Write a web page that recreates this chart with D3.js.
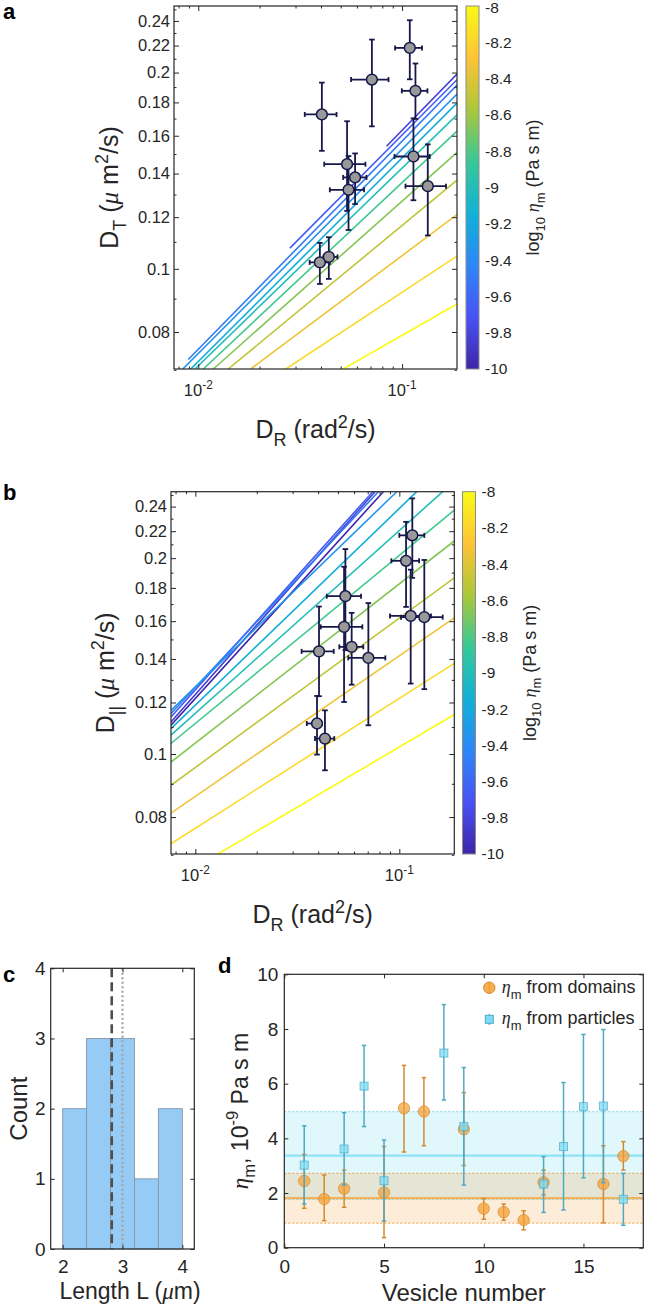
<!DOCTYPE html>
<html>
<head>
<meta charset="utf-8">
<script src="https://cdn.jsdelivr.net/npm/d3@7"></script>
<style>
body { margin: 0; background: #fff; }
svg { display: block; font-family: "Liberation Sans", Arial, Helvetica, sans-serif; }
</style>
</head>
<body>
<svg id="fig" width="646" height="1310"></svg>
<script>
// ---- panel a : D_T against D_R ----
const drA   = [0.0404, 0.0711, 0.1091, 0.1163, 0.0537, 0.0588, 0.0546, 0.1137, 0.1337, 0.0395, 0.0437];
const drALo = [0.0333, 0.0562, 0.0924, 0.0997, 0.0415, 0.0514, 0.0442, 0.0918, 0.1039, 0.0352, 0.0412];
const drAHi = [0.0477, 0.0858, 0.1253, 0.1332, 0.0661, 0.0669, 0.0651, 0.1367, 0.1643, 0.0442, 0.0482];
const dtA   = [0.1725, 0.1951, 0.2182, 0.1875, 0.1447, 0.1381, 0.1322, 0.1487, 0.1339, 0.1023, 0.1043];
const dtALo = [0.1517, 0.1654, 0.1953, 0.1698, 0.1227, 0.1257, 0.1147, 0.1274, 0.1125, 0.0948, 0.0965];
const dtAHi = [0.1930, 0.2247, 0.2406, 0.2065, 0.1684, 0.1503, 0.1489, 0.1701, 0.1552, 0.1096, 0.1118];

// model curves, log10 eta of each and its end points [D_R, D]
const etaA = [-9.833, -9.667, -9.5, -9.333, -9.167, -9.0, -8.833, -8.667, -8.5, -8.333, -8.167, -8.0];
const curvesA = [
  [[0.0839, 0.1542], [0.186, 0.1989]],
  [[0.02815, 0.1076], [0.186, 0.1950]],
  [[0.00893, 0.0726], [0.186, 0.1913]],
  [[0.00839, 0.0702], [0.186, 0.1853]],
  [[0.00918, 0.0702], [0.186, 0.1795]],
  [[0.00963, 0.0702], [0.186, 0.1723]],
  [[0.01058, 0.0702], [0.186, 0.1626]],
  [[0.01185, 0.0702], [0.186, 0.1509]],
  [[0.01403, 0.0702], [0.186, 0.1368]],
  [[0.01807, 0.0702], [0.186, 0.1211]],
  [[0.0269, 0.0702], [0.186, 0.1046]],
  [[0.0514, 0.0702], [0.186, 0.0883]]
];

// ---- panel b : D_|| against D_R ----
const drB   = [0.1158, 0.1079, 0.0544, 0.0536, 0.0584, 0.0705, 0.0404, 0.1137, 0.1326, 0.0395, 0.0432];
const drBLo = [0.1000, 0.0914, 0.0441, 0.0412, 0.0508, 0.0562, 0.0332, 0.0900, 0.1019, 0.0352, 0.0386];
const drBHi = [0.1326, 0.1250, 0.0649, 0.0659, 0.0666, 0.0854, 0.0477, 0.1430, 0.1632, 0.0417, 0.0480];
const dpB   = [0.2168, 0.1981, 0.1748, 0.1568, 0.1461, 0.1405, 0.1438, 0.1630, 0.1623, 0.1114, 0.1056];
const dpBLo = [0.1865, 0.1683, 0.1444, 0.1202, 0.1278, 0.1107, 0.1227, 0.1283, 0.1258, 0.0998, 0.0944];
const dpBHi = [0.2471, 0.2274, 0.2065, 0.1940, 0.1648, 0.1706, 0.1685, 0.1920, 0.1987, 0.1228, 0.1167];

const etaB = [-10, -9.833, -9.667, -9.5, -9.333, -9.167, -9.0, -8.833, -8.667, -8.5, -8.333, -8.167, -8.0];
const curvesB = [
  [[0.0076, 0.1107], [0.0835, 0.253]],
  [[0.0076, 0.1120], [0.0760, 0.253]],
  [[0.0076, 0.1140], [0.0741, 0.253]],
  [[0.0076, 0.1154], [0.0789, 0.253]],
  [[0.0076, 0.1167], [0.0971, 0.253]],
  [[0.0076, 0.1094], [0.1217, 0.253]],
  [[0.0076, 0.1069], [0.1632, 0.253]],
  [[0.0076, 0.1038], [0.186, 0.2371]],
  [[0.0076, 0.0972], [0.186, 0.2125]],
  [[0.0076, 0.0895], [0.186, 0.1865]],
  [[0.0076, 0.0811], [0.186, 0.1619]],
  [[0.0076, 0.0728], [0.186, 0.1378]],
  [[0.01292, 0.0702], [0.186, 0.1150]]
];

const logXDomain = [0.0076, 0.186];
const logYDomain = [0.0702, 0.253];
const logXMajor = [0.01, 0.1];
const logXMinor = [0.008, 0.009, 0.02, 0.03, 0.04, 0.05, 0.06, 0.07, 0.08, 0.09];
const logYMajor = [0.08, 0.1, 0.12, 0.14, 0.16, 0.18, 0.2, 0.22, 0.24];
const logYMinor = [0.07, 0.09, 0.11, 0.13, 0.15, 0.17, 0.19, 0.21, 0.23, 0.25];
const cbarTicks = [-10, -9.8, -9.6, -9.4, -9.2, -9, -8.8, -8.6, -8.4, -8.2, -8];

// ---- panel c : histogram of lengths ----
const binEdges  = [2, 2.4, 2.8, 3.2, 3.6, 4];
const binCounts = [2, 3, 3, 1, 2];
const meanLength = 2.82;
const medianLength = 3.0;
const cXTicks = [2, 3, 4];
const cYTicks = [0, 1, 2, 3, 4];

// ---- panel d : viscosity per vesicle ----
const vesDom   = [1, 2, 3, 5, 6, 7, 9, 10, 11, 12, 13, 16, 17];
const etaDom   = [2.44, 1.78, 2.16, 2.02, 5.10, 4.98, 4.33, 1.43, 1.30, 1.01, 2.39, 2.33, 3.35];
const etaDomLo = [1.44, 0.99, 1.48, 0.37, 3.50, 3.73, 3.01, 1.04, 1.00, 0.65, 1.93, 0.91, 2.84];
const etaDomHi = [3.41, 2.66, 2.84, 3.70, 6.67, 6.22, 5.67, 1.80, 1.60, 1.35, 2.84, 3.73, 3.88];
const vesPart   = [1, 3, 4, 5, 8, 9, 13, 14, 15, 16, 17];
const etaPart   = [3.02, 3.61, 5.91, 2.45, 7.12, 4.43, 2.33, 3.70, 5.16, 5.18, 1.77];
const etaPartLo = [1.60, 2.29, 4.43, 0.98, 5.40, 2.29, 1.29, 1.38, 2.56, 2.38, 0.82];
const etaPartHi = [4.46, 4.94, 7.40, 3.94, 8.89, 6.59, 3.33, 6.04, 7.80, 7.98, 2.72];
const domMean = 1.81, domBand = [0.90, 2.72];
const partMean = 3.37, partBand = [1.77, 4.98];
const dXTicks = [0, 5, 10, 15];
const dYTicks = [0, 2, 4, 6, 8, 10];

// parula(8)
const parulaCols = ['#3e26a8', '#4852f4', '#2d87f7', '#11b1d6', '#37c897', '#abc739', '#fec338', '#f9fb14'];
const parula = d3.scaleLinear()
    .domain(parulaCols.map((c, i) => -10 + 2 * i / (parulaCols.length - 1)))
    .range(parulaCols)
    .interpolate(d3.interpolateRgb);

const ink = '#262626';
const serif = '"Liberation Serif", "DejaVu Serif", serif';
const svg = d3.select('#fig');

// text with sub/superscripts and italic greek parts
function rich(sel, parts, fs) {
    let shift = 0;
    parts.forEach(function(p) {
        const target = p.sub ? fs * 0.32 : p.sup ? -fs * 0.42 : 0;
        const ts = sel.append('tspan').attr('dy', target - shift).text(p.t);
        if (p.sub || p.sup) ts.attr('font-size', fs * 0.72);
        if (p.it) ts.attr('font-style', 'italic').attr('font-family', serif);
        shift = target;
    });
    return sel;
}

function label(x, y, parts, fs, rotate, anchor) {
    const t = svg.append('text')
        .attr('transform', 'translate(' + x + ',' + y + ')' + (rotate ? ' rotate(-90)' : ''))
        .attr('text-anchor', anchor || 'middle')
        .attr('font-size', fs).attr('fill', ink);
    return rich(t, parts, fs);
}

function axis(pos, scale, vals, size, pad, fmt, fs) {
    const gen = {bottom: d3.axisBottom, top: d3.axisTop, left: d3.axisLeft, right: d3.axisRight}[pos](scale)
        .tickValues(vals).tickSizeInner(-size).tickSizeOuter(0).tickPadding(pad)
        .tickFormat(fmt || (() => ''));
    return function(g) {
        g.call(gen);
        g.select('.domain').remove();
        g.attr('font-family', null).attr('font-size', fs || 10);
        g.selectAll('line').attr('stroke', ink).attr('stroke-width', 1);
        g.selectAll('text').attr('fill', ink);
    };
}

// ticks on all four sides
function frame(x, y, box, xt, yt, len, fs, xpad, ypad, xfmt, yfmt) {
    svg.append('g').attr('transform', 'translate(0,' + box.b + ')').call(axis('bottom', x, xt, len, xpad, xfmt, fs));
    svg.append('g').attr('transform', 'translate(0,' + box.t + ')').call(axis('top', x, xt, len, 0, null, fs));
    svg.append('g').attr('transform', 'translate(' + box.l + ',0)').call(axis('left', y, yt, len, ypad, yfmt, fs));
    svg.append('g').attr('transform', 'translate(' + box.r + ',0)').call(axis('right', y, yt, len, 0, null, fs));
}

function drawBox(box) {
    svg.append('rect').attr('x', box.l).attr('y', box.t)
        .attr('width', box.r - box.l).attr('height', box.b - box.t)
        .attr('fill', 'none').attr('stroke', ink).attr('stroke-width', 1.2);
}

function errBars(g, xs, ys, lo, hi, x, y, col, cap, w) {
    xs.forEach(function(v, i) {
        const cx = x(v);
        g.append('line').attr('x1', cx).attr('x2', cx).attr('y1', y(lo[i])).attr('y2', y(hi[i]))
            .attr('stroke', col).attr('stroke-width', w);
        [lo[i], hi[i]].forEach(function(e) {
            g.append('line').attr('x1', cx - cap).attr('x2', cx + cap).attr('y1', y(e)).attr('y2', y(e))
                .attr('stroke', col).attr('stroke-width', w);
        });
    });
}

function logPanel(o) {
    const box = o.box;
    const x = d3.scaleLog().domain(logXDomain).range([box.l, box.r]);
    const y = d3.scaleLog().domain(logYDomain).range([box.b, box.t]);

    svg.append('clipPath').attr('id', 'clip' + o.name).append('rect')
        .attr('x', box.l).attr('y', box.t).attr('width', box.r - box.l).attr('height', box.b - box.t);

    const line = d3.line().x(p => x(p[0])).y(p => y(p[1]));
    svg.append('g').attr('clip-path', 'url(#clip' + o.name + ')')
        .selectAll('path').data(o.curves).enter().append('path')
        .attr('d', line)
        .attr('fill', 'none')
        .attr('stroke', (d, i) => parula(o.etas[i]))
        .attr('stroke-width', 1.6);

    const navy = '#17174a';
    const g = svg.append('g');
    // horizontal error bars
    o.yv.forEach(function(v, i) {
        const cy = y(v);
        g.append('line').attr('x1', x(o.xlo[i])).attr('x2', x(o.xhi[i])).attr('y1', cy).attr('y2', cy)
            .attr('stroke', navy).attr('stroke-width', 1.8);
        [o.xlo[i], o.xhi[i]].forEach(function(e) {
            g.append('line').attr('x1', x(e)).attr('x2', x(e)).attr('y1', cy - 2.5).attr('y2', cy + 2.5)
                .attr('stroke', navy).attr('stroke-width', 1.8);
        });
    });
    errBars(g, o.xv, o.yv, o.ylo, o.yhi, x, y, navy, 2.8, 1.8);
    g.selectAll('circle').data(o.xv).enter().append('circle')
        .attr('cx', d => x(d)).attr('cy', (d, i) => y(o.yv[i])).attr('r', 5.4)
        .attr('fill', '#999999').attr('stroke', navy).attr('stroke-width', 1.5);

    // axes
    svg.append('g').attr('transform', 'translate(0,' + box.b + ')').call(axis('bottom', x, logXMinor, 2.5, 0));
    svg.append('g').attr('transform', 'translate(0,' + box.t + ')').call(axis('top', x, logXMinor, 2.5, 0));
    svg.append('g').attr('transform', 'translate(' + box.l + ',0)').call(axis('left', y, logYMinor, 2.5, 0));
    svg.append('g').attr('transform', 'translate(' + box.r + ',0)').call(axis('right', y, logYMinor, 2.5, 0));
    frame(x, y, box, logXMajor, logYMajor, 5, 16.5, 14, 4, () => '', d => String(d));
    // 10^n labels
    svg.append('g').selectAll('text').data(logXMajor).enter().append('text')
        .attr('x', d => x(d)).attr('y', box.b + 27).attr('text-anchor', 'middle')
        .attr('font-size', 16.5).attr('fill', ink)
        .each(function(d) {
            rich(d3.select(this), [{t: '10'}, {t: String(Math.round(Math.log10(d))), sup: true}], 16.5);
        });
    drawBox(box);

    // colour bar
    const cb = o.cbar;
    const gradId = 'grad' + o.name;
    const grad = svg.append('defs').append('linearGradient').attr('id', gradId)
        .attr('x1', 0).attr('x2', 0).attr('y1', 1).attr('y2', 0);
    d3.range(0, 1.0001, 0.02).forEach(function(t) {
        grad.append('stop').attr('offset', t).attr('stop-color', parula(-10 + 2 * t));
    });
    svg.append('rect').attr('x', cb.l).attr('y', box.t).attr('width', cb.w).attr('height', box.b - box.t)
        .attr('fill', 'url(#' + gradId + ')').attr('stroke', '#8c8c8c').attr('stroke-width', 1);
    const cy = d3.scaleLinear().domain([-10, -8]).range([box.b, box.t]);
    svg.append('g').selectAll('text').data(cbarTicks).enter().append('text')
        .attr('x', cb.l + cb.w + 6).attr('y', d => Math.max(cy(d), 8)).attr('dy', '0.35em')
        .attr('font-size', 15.5).attr('fill', ink)
        .text(d => d3.format('')(d).replace('−', '-'));
    label(cb.lab, (box.t + box.b) / 2,
        [{t: 'log'}, {t: '10', sub: true}, {t: ' '}, {t: 'η', it: true}, {t: 'm', sub: true}, {t: ' (Pa s m)'}], 18, true);

    // axis labels
    label((box.l + box.r) / 2, o.xlab, [{t: 'D'}, {t: 'R', sub: true}, {t: ' (rad'}, {t: '2', sup: true}, {t: '/s)'}], 25);
    label(o.ylab, (box.t + box.b) / 2, [{t: 'D'}, {t: o.sub, sub: true}, {t: ' ('}, {t: 'μ', it: true},
        {t: ' m'}, {t: '2', sup: true}, {t: '/s)'}], 25, true);
}

logPanel({
    name: 'a', box: {l: 174, r: 457, t: 6, b: 369},
    curves: curvesA, etas: etaA,
    xv: drA, xlo: drALo, xhi: drAHi, yv: dtA, ylo: dtALo, yhi: dtAHi,
    cbar: {l: 466, w: 13, lab: 539}, xlab: 438, ylab: 118, sub: 'T'
});
logPanel({
    name: 'b', box: {l: 171, r: 454.3, t: 491.7, b: 854},
    curves: curvesB, etas: etaB,
    xv: drB, xlo: drBLo, xhi: drBHi, yv: dpB, ylo: dpBLo, yhi: dpBHi,
    cbar: {l: 462.5, w: 13, lab: 535.5}, xlab: 923, ylab: 114, sub: '||'
});

// ---- panel c ----
(function() {
    const box = {l: 50.7, r: 194.3, t: 968.3, b: 1249};
    const x = d3.scaleLinear().domain([1.8, 4.2]).range([box.l, box.r]);
    const y = d3.scaleLinear().domain([0, 4]).range([box.b, box.t]);
    svg.append('g').selectAll('rect').data(binCounts).enter().append('rect')
        .attr('x', (d, i) => x(binEdges[i])).attr('width', (d, i) => x(binEdges[i + 1]) - x(binEdges[i]))
        .attr('y', d => y(d)).attr('height', d => y(0) - y(d))
        .attr('fill', '#96cbf5').attr('stroke', '#8597a8').attr('stroke-width', 0.9);
    svg.append('line').attr('x1', x(meanLength)).attr('x2', x(meanLength)).attr('y1', box.t).attr('y2', box.b)
        .attr('stroke', '#4d4d4d').attr('stroke-width', 2.6).attr('stroke-dasharray', '9,5');
    svg.append('line').attr('x1', x(medianLength)).attr('x2', x(medianLength)).attr('y1', box.t).attr('y2', box.b)
        .attr('stroke', '#a3a3a3').attr('stroke-width', 2.2).attr('stroke-dasharray', '2,2.5');
    frame(x, y, box, cXTicks, cYTicks, 4, 19, 11, 5, d => String(d), d => String(d));
    drawBox(box);
    label(130, 1299, [{t: 'Length L ('}, {t: 'μ', it: true}, {t: 'm)'}], 23);
    label(27, (box.t + box.b) / 2, [{t: 'Count'}], 24, true);
})();

// ---- panel d ----
(function() {
    const box = {l: 284.3, r: 643.3, t: 974.3, b: 1247.7};
    const x = d3.scaleLinear().domain([0, 18]).range([box.l, box.r]);
    const y = d3.scaleLinear().domain([0, 10]).range([box.b, box.t]);
    const orange = '#f5a033', orangeDk = '#d38a2e', cyan = '#7fdcf5', cyanDk = '#4eaac3';

    svg.append('rect').attr('x', box.l).attr('width', box.r - box.l)
        .attr('y', y(partBand[1])).attr('height', y(partBand[0]) - y(partBand[1]))
        .attr('fill', 'rgb(110,215,240)').attr('fill-opacity', 0.21);
    svg.append('rect').attr('x', box.l).attr('width', box.r - box.l)
        .attr('y', y(domBand[1])).attr('height', y(domBand[0]) - y(domBand[1]))
        .attr('fill', 'rgb(245,160,60)').attr('fill-opacity', 0.2);
    function hline(v, col, w, dash) {
        svg.append('line').attr('x1', box.l).attr('x2', box.r).attr('y1', y(v)).attr('y2', y(v))
            .attr('stroke', col).attr('stroke-width', w).attr('stroke-dasharray', dash || null);
    }
    partBand.forEach(v => hline(v, '#8fdcf2', 1.3, '2,2'));
    domBand.forEach(v => hline(v, '#f3ad5a', 1.3, '2,2'));
    hline(partMean, '#8ee3f7', 2.2);
    hline(domMean, '#f2b25c', 2.2);

    const gd = svg.append('g');
    errBars(gd, vesDom, etaDom, etaDomLo, etaDomHi, x, y, orangeDk, 2.2, 1.5);
    gd.selectAll('circle').data(vesDom).enter().append('circle')
        .attr('cx', d => x(d)).attr('cy', (d, i) => y(etaDom[i])).attr('r', 5.7)
        .attr('fill', orange).attr('fill-opacity', 0.72).attr('stroke', orangeDk).attr('stroke-opacity', 0.7);
    const gp = svg.append('g');
    errBars(gp, vesPart, etaPart, etaPartLo, etaPartHi, x, y, cyanDk, 2.2, 1.5);
    gp.selectAll('rect').data(vesPart).enter().append('rect')
        .attr('x', d => x(d) - 4).attr('y', (d, i) => y(etaPart[i]) - 4).attr('width', 8).attr('height', 8)
        .attr('fill', cyan).attr('fill-opacity', 0.75).attr('stroke', cyanDk).attr('stroke-opacity', 0.7);

    frame(x, y, box, dXTicks, dYTicks, 4, 19, 12, 6, d => String(d), d => String(d));
    drawBox(box);

    // legend
    svg.append('line').attr('x1', 489.3).attr('x2', 489.3).attr('y1', 982).attr('y2', 994).attr('stroke', orangeDk).attr('stroke-width', 1.3);
    svg.append('circle').attr('cx', 489.3).attr('cy', 987.7).attr('r', 5.7)
        .attr('fill', orange).attr('fill-opacity', 0.85).attr('stroke', orangeDk);
    svg.append('line').attr('x1', 489.3).attr('x2', 489.3).attr('y1', 1014).attr('y2', 1025).attr('stroke', cyanDk).attr('stroke-width', 1.3);
    svg.append('rect').attr('x', 485.3).attr('y', 1015.3).attr('width', 8).attr('height', 8)
        .attr('fill', cyan).attr('stroke', cyanDk);
    label(501.7, 993, [{t: 'η', it: true}, {t: 'm', sub: true}, {t: ' from domains'}], 18, false, 'start');
    label(501.7, 1024, [{t: 'η', it: true}, {t: 'm', sub: true}, {t: ' from particles'}], 18, false, 'start');

    label((box.l + box.r) / 2, 1301, [{t: 'Vesicle number'}], 24);
    label(248, (box.t + box.b) / 2, [{t: 'η', it: true}, {t: 'm', sub: true}, {t: ', 10'}, {t: '-9', sup: true}, {t: ' Pa s m'}], 23, true);
})();

// panel letters
[['a', 3, 19], ['b', 3, 500], ['c', 3, 982], ['d', 218, 973]].forEach(function(p) {
    svg.append('text').attr('x', p[1]).attr('y', p[2]).attr('font-size', 22).attr('font-weight', 'bold')
        .attr('fill', '#000').text(p[0]);
});
</script>
</body>
</html>
